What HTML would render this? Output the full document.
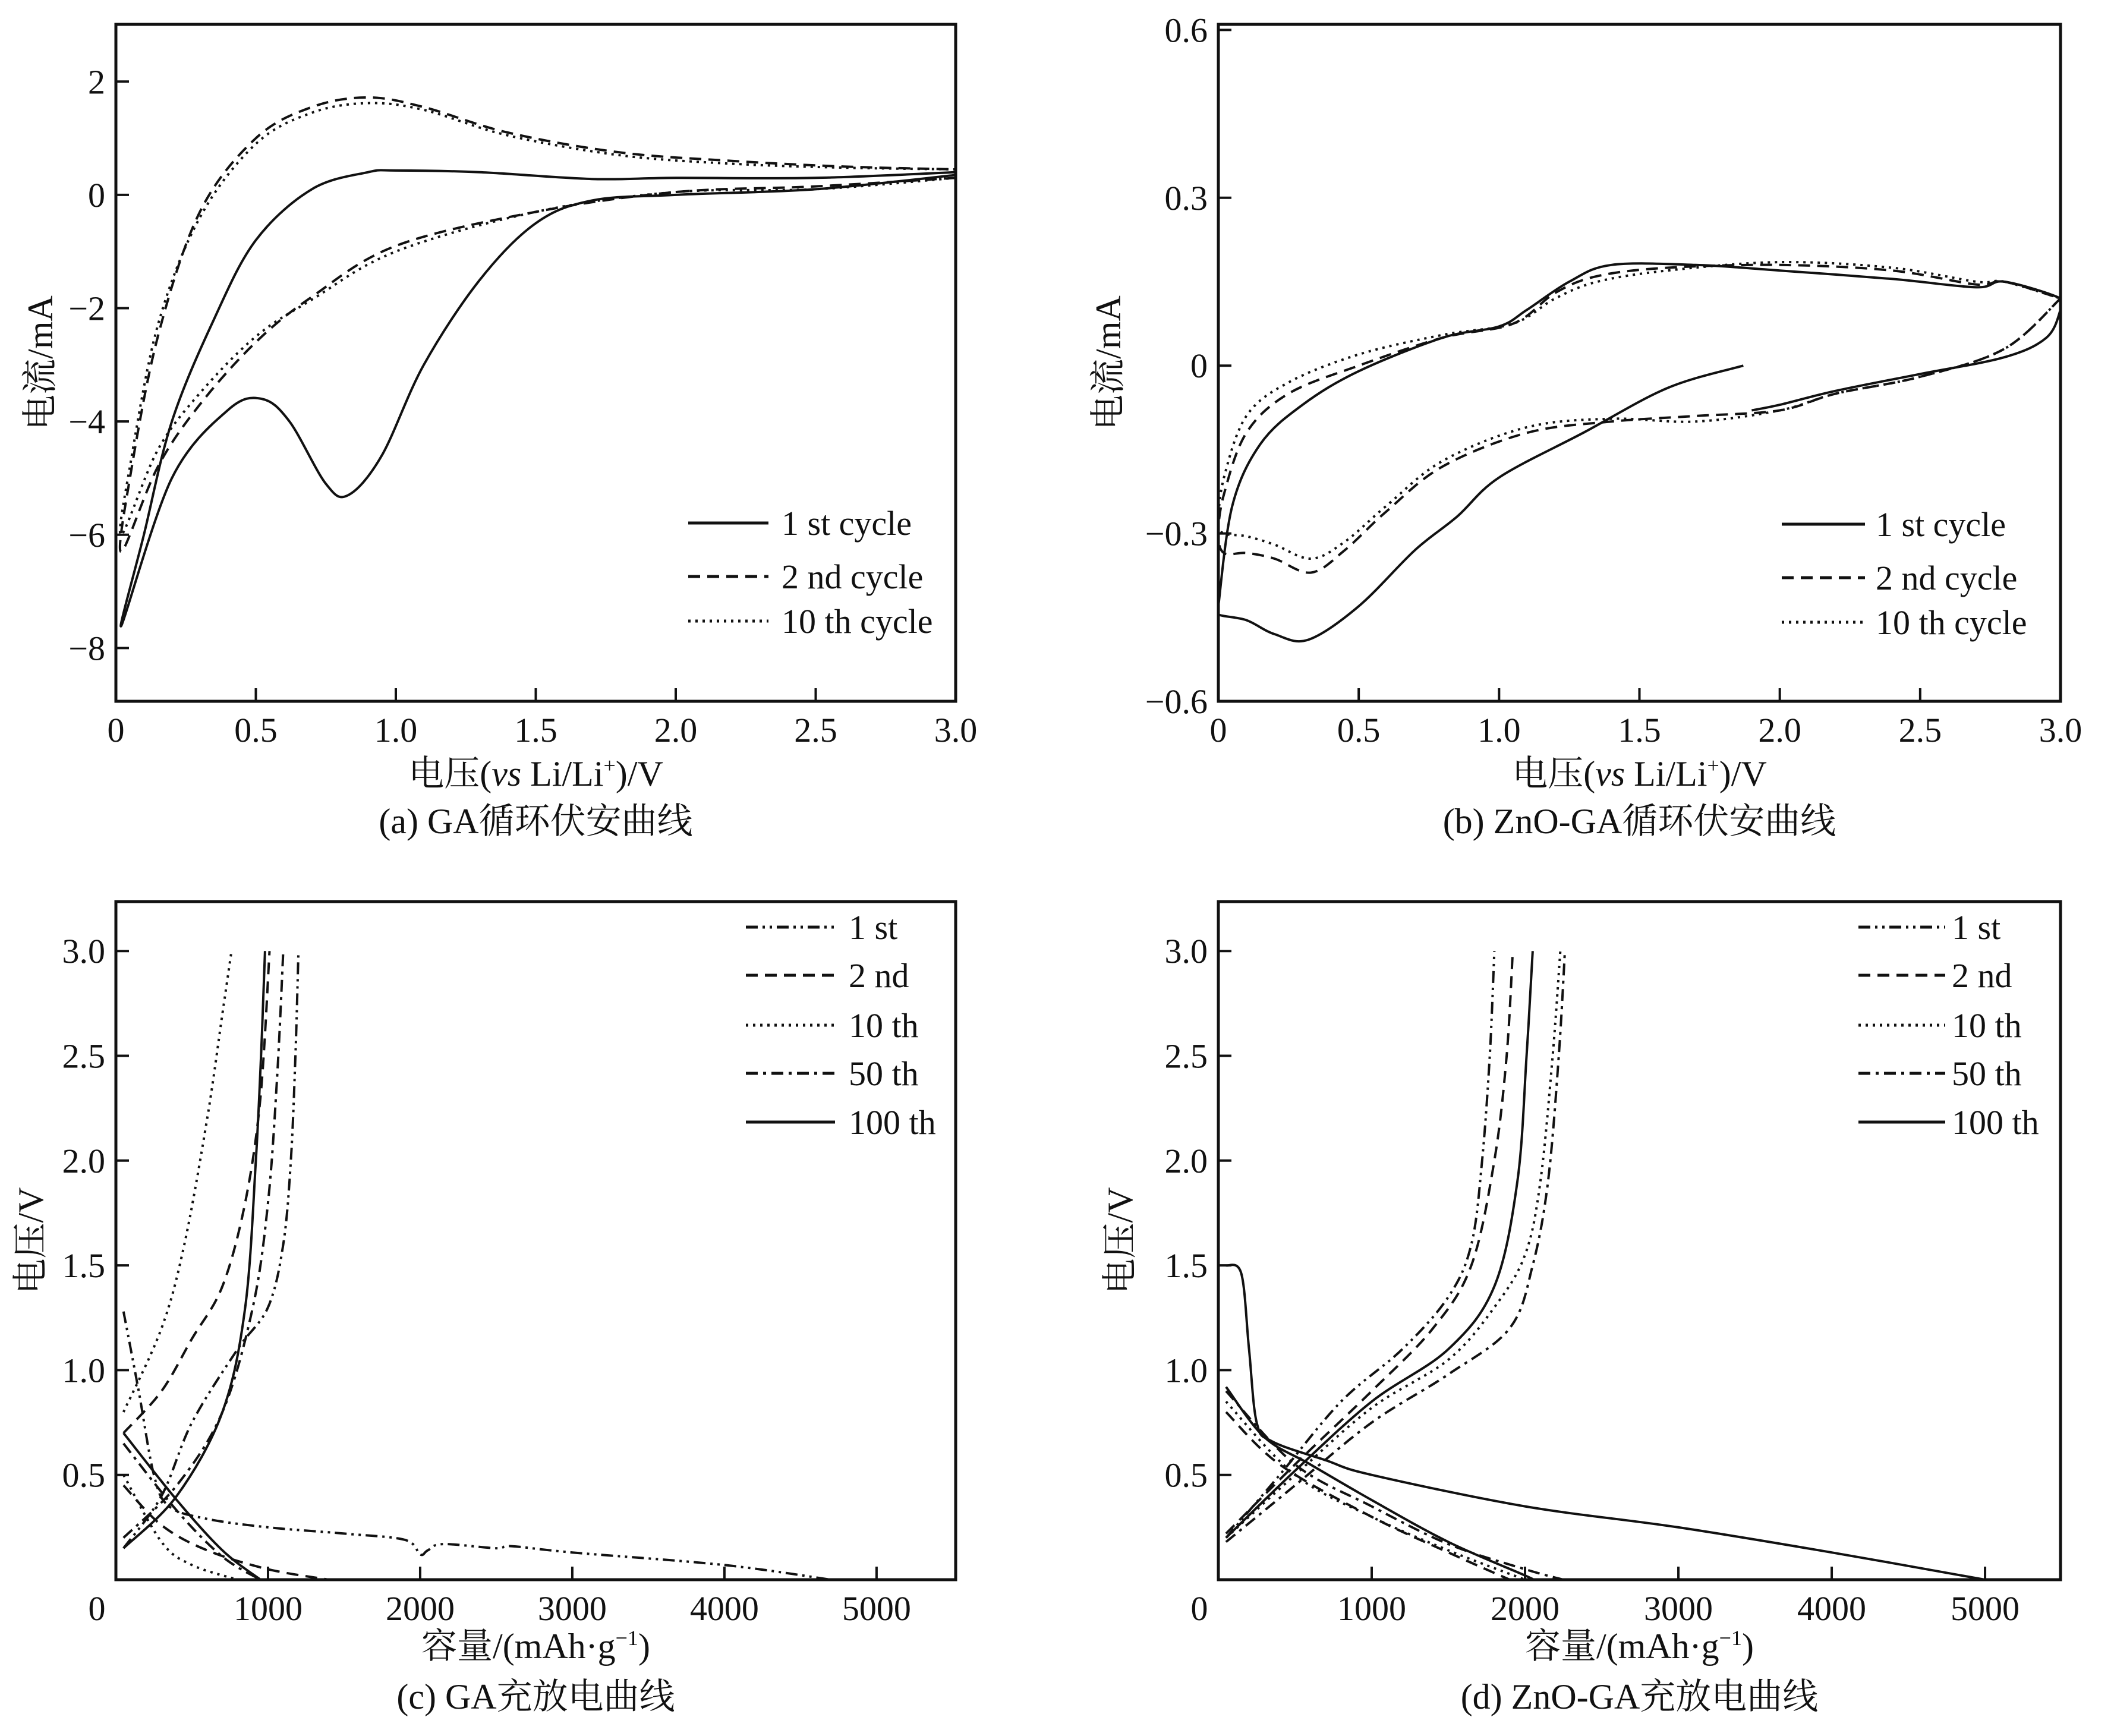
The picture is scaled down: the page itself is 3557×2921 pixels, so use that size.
<!DOCTYPE html>
<html><head><meta charset="utf-8"><style>
html,body{margin:0;padding:0;background:#fff}
svg{display:block}
text{font-family:"Liberation Serif","Noto Serif CJK SC","Noto Sans CJK SC",serif;fill:#111}
</style></head><body>
<svg id="fig" width="3557" height="2921" viewBox="0 0 3557 2921" xmlns="http://www.w3.org/2000/svg">
<rect width="3557" height="2921" fill="#fff"/>
</svg>
<script>
// ---- data arrays ----
// panel a: GA CV (V, mA)
const aCycle1X=[3.0,2.5,2.0,1.7,1.5,1.3,1.1,0.95,0.83,0.75,0.62,0.52,0.4,0.2,0.02,0.1,0.2,0.35,0.5,0.7,0.9,1.0,1.3,1.7,2.0,2.5,3.0];
const aCycle1Y=[0.35,0.1,0.0,-0.1,-0.5,-1.5,-3.0,-4.6,-5.3,-5.1,-4.0,-3.6,-3.8,-5.0,-7.6,-6.0,-4.0,-2.2,-0.8,0.1,0.4,0.43,0.4,0.28,0.3,0.3,0.4];
const aCycle2X=[3.0,2.5,2.0,1.5,1.0,0.7,0.5,0.3,0.15,0.02,0.05,0.15,0.3,0.5,0.7,0.9,1.1,1.4,1.8,2.2,2.6,3.0];
const aCycle2Y=[0.3,0.15,0.05,-0.3,-0.9,-1.8,-2.6,-3.7,-4.8,-6.3,-5.0,-2.5,-0.3,1.0,1.55,1.72,1.55,1.1,0.75,0.6,0.5,0.45];
const aCycle10X=[3.0,2.5,2.0,1.5,1.0,0.7,0.5,0.3,0.15,0.02,0.05,0.15,0.3,0.5,0.7,0.9,1.1,1.4,1.8,2.2,2.6,3.0];
const aCycle10Y=[0.3,0.1,0.05,-0.3,-1.0,-1.85,-2.5,-3.5,-4.5,-6.0,-4.8,-2.3,-0.4,0.9,1.45,1.62,1.5,1.05,0.7,0.55,0.48,0.45];
// panel b: ZnO-GA CV (V, mA)
const bCycle1X=[1.87,1.6,1.3,1.0,0.85,0.7,0.5,0.32,0.2,0.1,0.0,0.0,0.05,0.15,0.3,0.5,0.8,1.0,1.1,1.25,1.4,1.7,2.0,2.4,2.7,2.8,3.0,3.0,2.95,2.8,2.5,2.2,2.0,1.9];
const bCycle1Y=[0.0,-0.04,-0.12,-0.2,-0.27,-0.33,-0.43,-0.49,-0.48,-0.455,-0.445,-0.43,-0.25,-0.14,-0.07,-0.01,0.05,0.07,0.1,0.15,0.18,0.18,0.17,0.155,0.14,0.15,0.12,0.1,0.05,0.015,-0.015,-0.045,-0.07,-0.08];
const bCycle2X=[3.0,2.8,2.5,2.2,2.0,1.7,1.4,1.1,0.8,0.6,0.45,0.33,0.2,0.1,0.02,0.0,0.02,0.1,0.25,0.5,0.8,1.05,1.2,1.35,1.6,2.0,2.4,2.7,2.8,3.0];
const bCycle2Y=[0.12,0.03,-0.02,-0.05,-0.08,-0.09,-0.1,-0.12,-0.18,-0.26,-0.33,-0.37,-0.345,-0.335,-0.335,-0.3,-0.23,-0.12,-0.05,0.0,0.05,0.075,0.13,0.16,0.175,0.18,0.17,0.145,0.15,0.12];
const bCycle10X=[3.0,2.8,2.5,2.2,2.0,1.7,1.4,1.1,0.8,0.6,0.45,0.33,0.2,0.1,0.02,0.0,0.02,0.1,0.25,0.5,0.8,1.05,1.2,1.35,1.6,2.0,2.4,2.7,2.8,3.0];
const bCycle10Y=[0.12,0.03,-0.02,-0.05,-0.08,-0.1,-0.095,-0.11,-0.17,-0.25,-0.315,-0.345,-0.32,-0.305,-0.3,-0.28,-0.2,-0.09,-0.03,0.02,0.055,0.075,0.12,0.15,0.17,0.185,0.175,0.15,0.15,0.12];
// panel c: GA charge/discharge (mAh/g, V)
const c1stDisX=[50,150,250,350,600,1000,1500,1900,2000,2050,2150,2500,2600,3000,4000,4700];
const c1stDisY=[1.28,0.9,0.5,0.35,0.29,0.25,0.22,0.19,0.12,0.14,0.17,0.15,0.16,0.13,0.07,0.0];
const c1stChX=[50,300,500,800,1000,1100,1150,1180,1200];
const c1stChY=[0.15,0.4,0.75,1.1,1.3,1.6,2.0,2.5,3.0];
const c2ndDisX=[50,300,600,1000,1400];
const c2ndDisY=[0.45,0.26,0.14,0.05,0.0];
const c2ndChX=[50,300,500,700,850,950,1010];
const c2ndChY=[0.7,0.9,1.15,1.4,1.8,2.3,3.0];
const c10DisX=[50,300,500,800];
const c10DisY=[0.5,0.18,0.07,0.0];
const c10ChX=[50,300,450,600,700,760];
const c10ChY=[0.8,1.2,1.6,2.2,2.7,3.0];
const c50DisX=[50,400,700,950];
const c50DisY=[0.65,0.33,0.11,0.0];
const c50ChX=[50,400,700,900,1000,1060,1100];
const c50ChY=[0.2,0.45,0.8,1.3,1.8,2.4,3.0];
const c100DisX=[50,400,700,950];
const c100DisY=[0.7,0.38,0.14,0.0];
const c100ChX=[50,400,700,850,920,960,980];
const c100ChY=[0.15,0.4,0.8,1.3,2.0,2.6,3.0];
// panel d: ZnO-GA charge/discharge
const d1stDisX=[50,150,200,250,350,700,1000,2000,3000,4000,5000];
const d1stDisY=[1.5,1.46,1.1,0.75,0.66,0.57,0.5,0.35,0.25,0.13,0.0];
const d1stChX=[50,400,800,1200,1500,1650,1720,1770,1800];
const d1stChY=[0.2,0.5,0.85,1.1,1.35,1.6,2.0,2.5,3.0];
const d2ndDisX=[50,400,1000,1500,1900];
const d2ndDisY=[0.8,0.55,0.3,0.13,0.0];
const d2ndChX=[50,500,1000,1400,1650,1800,1880,1920];
const d2ndChY=[0.22,0.55,0.9,1.2,1.5,2.0,2.5,3.0];
const d10DisX=[50,500,1000,1500,2000];
const d10DisY=[0.85,0.5,0.3,0.14,0.0];
const d10ChX=[50,500,1000,1500,1800,2000,2100,2180,2230];
const d10ChY=[0.2,0.5,0.82,1.05,1.3,1.55,1.9,2.5,3.0];
const d50DisX=[50,500,1000,1500,2000,2250];
const d50DisY=[0.9,0.55,0.35,0.17,0.05,0.0];
const d50ChX=[50,500,1000,1500,1900,2050,2150,2220,2260];
const d50ChY=[0.18,0.45,0.75,0.98,1.2,1.5,1.9,2.5,3.0];
const d100DisX=[50,300,600,1000,1500,2000,2050];
const d100DisY=[0.92,0.68,0.55,0.38,0.18,0.02,0.0];
const d100ChX=[50,500,1000,1500,1800,1950,2010,2050];
const d100ChY=[0.2,0.52,0.85,1.1,1.4,1.9,2.5,3.0];
// tick labels
const cvXTicks=[0,0.5,1.0,1.5,2.0,2.5,3.0];
const cvXLabels=["0","0.5","1.0","1.5","2.0","2.5","3.0"];
const aYTicks=[2,0,-2,-4,-6,-8];
const aYLabels=["2","0","\u22122","\u22124","\u22126","\u22128"];
const bYTicks=[0.6,0.3,0,-0.3,-0.6];
const bYLabels=["0.6","0.3","0","\u22120.3","\u22120.6"];
const capXTicks=[1000,2000,3000,4000,5000];
const capXLabels=["1000","2000","3000","4000","5000"];
const vYTicks=[0.5,1.0,1.5,2.0,2.5,3.0];
const vYLabels=["0.5","1.0","1.5","2.0","2.5","3.0"];

const NS="http://www.w3.org/2000/svg";
const svg=document.getElementById('fig');
function el(tag,attrs,parent){const e=document.createElementNS(NS,tag);for(const k in attrs)e.setAttribute(k,attrs[k]);(parent||svg).appendChild(e);return e;}
function mkScale(d0,d1,r0,r1){return v=>r0+(v-d0)*(r1-r0)/(d1-d0);}
const DASH={solid:"none",dash:"20,12",dot:"4,8",dashdot:"20,9,5,9",dashdotdot:"20,8,4,8,4,8"};
function smooth(pts){let d="M"+pts[0][0].toFixed(1)+","+pts[0][1].toFixed(1);
 for(let i=0;i<pts.length-1;i++){const p0=pts[i-1]||pts[i],p1=pts[i],p2=pts[i+1],p3=pts[i+2]||p2;
  const c1=[p1[0]+(p2[0]-p0[0])/6,p1[1]+(p2[1]-p0[1])/6],c2=[p2[0]-(p3[0]-p1[0])/6,p2[1]-(p3[1]-p1[1])/6];
  d+=" C"+c1[0].toFixed(1)+","+c1[1].toFixed(1)+" "+c2[0].toFixed(1)+","+c2[1].toFixed(1)+" "+p2[0].toFixed(1)+","+p2[1].toFixed(1);}
 return d;}
function series(g,sx,sy,xs,ys,style,name){
 const pts=xs.map((x,i)=>[sx(x),sy(ys[i])]);
 const p=el('path',{d:smooth(pts),fill:'none',stroke:'#111','stroke-width':4,'stroke-dasharray':DASH[style],'stroke-linejoin':'round'},g);
 
 
}
function panel(P){
 const g=el('g',{});
 
 
 const sx=mkScale(P.xd[0],P.xd[1],P.x0,P.x1), sy=mkScale(P.yd[0],P.yd[1],P.y1,P.y0);
 const clipId=P.name+"-clip";
 const cp=el('clipPath',{id:clipId},g);el('rect',{x:P.x0,y:P.y0,width:P.x1-P.x0,height:P.y1-P.y0},cp);
 const sg=el('g',{'clip-path':'url(#'+clipId+')'},g);
 
 
 P.series.forEach(s=>series(sg,sx,sy,s[0],s[1],s[2],s[3]));
 const fr=el('rect',{x:P.x0,y:P.y0,width:P.x1-P.x0,height:P.y1-P.y0,fill:'none',stroke:'#111','stroke-width':5},g);
 
 
 P.xt.forEach((v,i)=>{const x=sx(v);
  if(v!==P.xd[0])el('line',{x1:x,x2:x,y1:P.y1,y2:P.y1-22,stroke:'#111','stroke-width':4},g);
  const t=el('text',{x:x,y:P.y1+68,'font-size':58,'text-anchor':'middle'},g);t.textContent=P.xl[i];
  
  });
 P.yt.forEach((v,i)=>{const y=sy(v);
  el('line',{x1:P.x0,x2:P.x0+22,y1:y,y2:y,stroke:'#111','stroke-width':4},g);
  const t=el('text',{x:P.x0-18,y:y+20,'font-size':58,'text-anchor':'end'},g);t.textContent=P.yl[i];
  
  });
 if(P.zero){const t=el('text',{x:P.x0-32,y:P.y1+68,'font-size':58,'text-anchor':'middle'},g);t.textContent="0";
  
  }
 const xl=el('text',{x:(P.x0+P.x1)/2,y:P.xlabY,'font-size':60,'text-anchor':'middle'},g);xl.innerHTML=P.xlabel;
 
 
 const yl=el('text',{x:P.ylabX,y:(P.y0+P.y1)/2,'font-size':60,'text-anchor':'middle',transform:'rotate(-90 '+P.ylabX+' '+(P.y0+P.y1)/2+')'},g);yl.textContent=P.ylabel;
 
 
 const cap=el('text',{x:(P.x0+P.x1)/2,y:P.capY,'font-size':60,'text-anchor':'middle'},g);cap.textContent=P.caption;
 
 
 P.legend.forEach((L,i)=>{const lg=el('g',{},g);
  
  
  const y=P.legY[i];
  el('line',{x1:P.legX[0],x2:P.legX[1],y1:y,y2:y,stroke:'#111','stroke-width':5,'stroke-dasharray':DASH[L[0]]},lg);
  const t=el('text',{x:P.legX[2],y:y+20,'font-size':58},lg);t.textContent=L[1];});
}
const VX='电压(<tspan font-style="italic">vs</tspan> Li/Li<tspan font-size="36" dy="-22">+</tspan><tspan dy="22">)/V</tspan>';
const CX='容量/(mAh·g<tspan font-size="36" dy="-22">−1</tspan><tspan dy="22">)</tspan>';
panel({name:'panel-a-ga-cv',x0:195,x1:1608,y0:41,y1:1180,xd:[0,3.0],yd:[-8.94,3.01],xt:cvXTicks,xl:cvXLabels,yt:aYTicks,yl:aYLabels,
 xlabel:VX,xlabY:1322,ylabel:'电流/mA',ylabX:88,caption:'(a) GA循环伏安曲线',capY:1402,
 series:[[aCycle1X,aCycle1Y,'solid','cycle-1-line'],[aCycle2X,aCycle2Y,'dash','cycle-2-line'],[aCycle10X,aCycle10Y,'dot','cycle-10-line']],
 legend:[['solid','1 st cycle'],['dash','2 nd cycle'],['dot','10 th cycle']],legX:[1158,1293,1315],legY:[880,970,1045]});
panel({name:'panel-b-znoga-cv',x0:2050,x1:3467,y0:41,y1:1180,xd:[0,3.0],yd:[-0.6,0.61],xt:cvXTicks,xl:cvXLabels,yt:bYTicks,yl:bYLabels,
 xlabel:VX,xlabY:1322,ylabel:'电流/mA',ylabX:1885,caption:'(b) ZnO-GA循环伏安曲线',capY:1402,
 series:[[bCycle1X,bCycle1Y,'solid','cycle-1-line'],[bCycle2X,bCycle2Y,'dash','cycle-2-line'],[bCycle10X,bCycle10Y,'dot','cycle-10-line']],
 legend:[['solid','1 st cycle'],['dash','2 nd cycle'],['dot','10 th cycle']],legX:[2998,3138,3156],legY:[882,972,1047]});
panel({name:'panel-c-ga-charge',x0:195,x1:1608,y0:1517,y1:2658,xd:[0,5520],yd:[0,3.236],xt:capXTicks,xl:capXLabels,yt:vYTicks,yl:vYLabels,zero:true,
 xlabel:CX,xlabY:2790,ylabel:'电压/V',ylabX:72,caption:'(c) GA充放电曲线',capY:2875,
 series:[[c1stDisX,c1stDisY,'dashdotdot','first-discharge'],[c1stChX,c1stChY,'dashdotdot','first-charge'],
  [c2ndDisX,c2ndDisY,'dash','second-discharge'],[c2ndChX,c2ndChY,'dash','second-charge'],
  [c10DisX,c10DisY,'dot','tenth-discharge'],[c10ChX,c10ChY,'dot','tenth-charge'],
  [c50DisX,c50DisY,'dashdot','fiftieth-discharge'],[c50ChX,c50ChY,'dashdot','fiftieth-charge'],
  [c100DisX,c100DisY,'solid','hundredth-discharge'],[c100ChX,c100ChY,'solid','hundredth-charge']],
 legend:[['dashdotdot','1 st'],['dash','2 nd'],['dot','10 th'],['dashdot','50 th'],['solid','100 th']],legX:[1255,1405,1428],legY:[1560,1641,1725,1806,1888]});
panel({name:'panel-d-znoga-charge',x0:2050,x1:3467,y0:1517,y1:2658,xd:[0,5492],yd:[0,3.236],xt:capXTicks,xl:capXLabels,yt:vYTicks,yl:vYLabels,zero:true,
 xlabel:CX,xlabY:2790,ylabel:'电压/V',ylabX:1905,caption:'(d) ZnO-GA充放电曲线',capY:2875,
 series:[[d1stDisX,d1stDisY,'solid','first-discharge'],[d1stChX,d1stChY,'dashdotdot','first-charge'],
  [d2ndDisX,d2ndDisY,'dash','second-discharge'],[d2ndChX,d2ndChY,'dash','second-charge'],
  [d10DisX,d10DisY,'dot','tenth-discharge'],[d10ChX,d10ChY,'dot','tenth-charge'],
  [d50DisX,d50DisY,'dashdot','fiftieth-discharge'],[d50ChX,d50ChY,'dashdot','fiftieth-charge'],
  [d100DisX,d100DisY,'solid','hundredth-discharge'],[d100ChX,d100ChY,'solid','hundredth-charge']],
 legend:[['dashdotdot','1 st'],['dash','2 nd'],['dot','10 th'],['dashdot','50 th'],['solid','100 th']],legX:[3127,3273,3284],legY:[1560,1641,1725,1806,1888]});
</script>
</body></html>
